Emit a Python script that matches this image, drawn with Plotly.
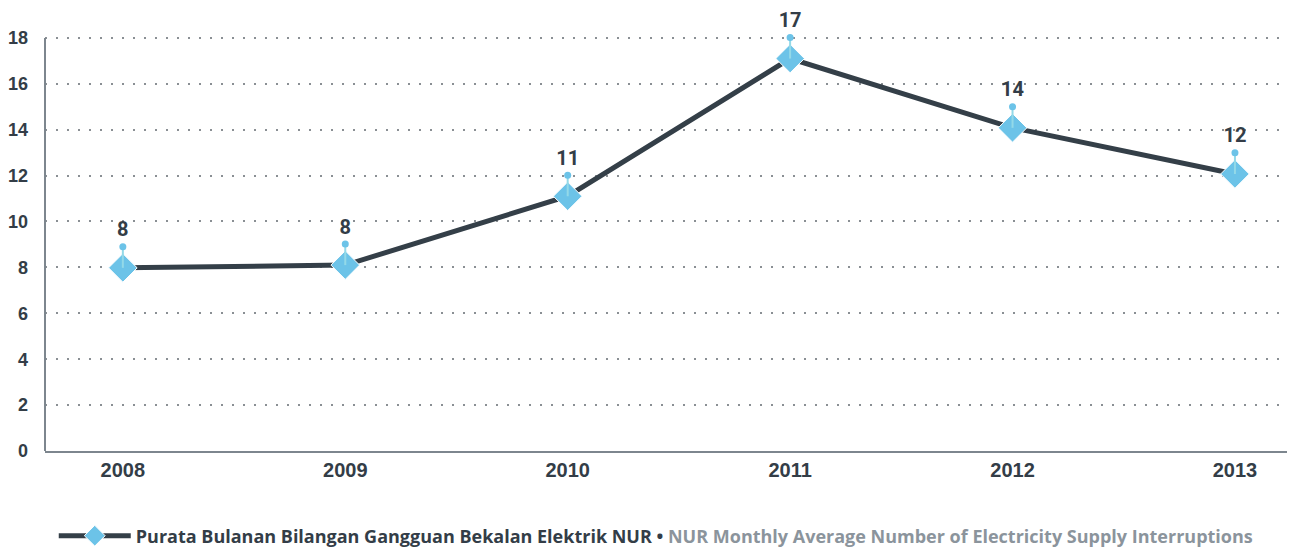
import plotly.graph_objects as go

years = ["2008", "2009", "2010", "2011", "2012", "2013"]
values = [7.98, 8.1, 11.1, 17.1, 14.08, 12.07]
labels = ["8", "8", "11", "17", "14", "12"]
y_ticks = [0, 2, 4, 6, 8, 10, 12, 14, 16, 18]

DARK = "#333d47"
BLUE = "#6cc3e8"
PIN = "#93d9e8"
GRAY = "#7d868e"
PIN_LEN = 0.92

series_name = ("<b>Purata Bulanan Bilangan Gangguan Bekalan Elektrik NUR • "
               "<span style='color:#8b949c'>NUR Monthly Average Number of Electricity Supply Interruptions</span></b>")

fig = go.Figure()
fig.add_trace(go.Scatter(
    x=years, y=values, mode="lines+markers", name=series_name,
    line=dict(color="#343f48", width=5),
    marker=dict(symbol="diamond", size=22, color=BLUE, line=dict(color="white", width=1)),
    hoverinfo="skip", cliponaxis=False,
))

px, py = [], []
for yr, v in zip(years, values):
    px += [yr, yr, None]
    py += [v, v + PIN_LEN, None]
fig.add_trace(go.Scatter(x=px, y=py, mode="lines", line=dict(color=PIN, width=2),
                         showlegend=False, hoverinfo="skip", cliponaxis=False))
fig.add_trace(go.Scatter(
    x=years, y=[v + PIN_LEN for v in values], mode="markers+text",
    marker=dict(size=7, color=BLUE), text=labels, textposition="top center",
    textfont=dict(family="Roboto", size=20, color=DARK, weight="bold"),
    showlegend=False, hoverinfo="skip", cliponaxis=False,
))

# y axis line only from 0 to 18
fig.add_shape(type="line", xref="paper", yref="y", x0=0, x1=0, y0=0, y1=18,
              line=dict(color=GRAY, width=2))

# The page body has an 8px margin, so the figure is offset by 8px
fig.update_layout(
    width=1287, height=539,
    margin=dict(l=37, r=0, t=23, b=96, autoexpand=False),
    plot_bgcolor="white", paper_bgcolor="white",
    font=dict(family="Liberation Sans", color=DARK),
    showlegend=True,
    legend=dict(orientation="h", x=0.007, xanchor="left", y=-0.2024, yanchor="middle",
                font=dict(family="Open Sans", size=18, color=DARK),
                itemwidth=72, bgcolor="rgba(0,0,0,0)"),
    xaxis=dict(type="category", range=[-0.35, 5.27], showgrid=False, automargin=False,
               showline=True, linecolor=GRAY, linewidth=2, ticks="",
               tickfont=dict(family="Liberation Sans", size=20, color=DARK, weight="bold"),
               ticklabelstandoff=0, zeroline=False),
    yaxis=dict(range=[0, 18.3], tickvals=y_ticks, showgrid=True, gridcolor="#8a8f94",
               automargin=False,
               gridwidth=1.5, griddash="2px,9px", showline=False,
               ticks="", tickfont=dict(family="Liberation Sans", size=18, color=DARK, weight="bold"),
               ticklabelstandoff=16, zeroline=False),
)

fig.write_html("out.html")
